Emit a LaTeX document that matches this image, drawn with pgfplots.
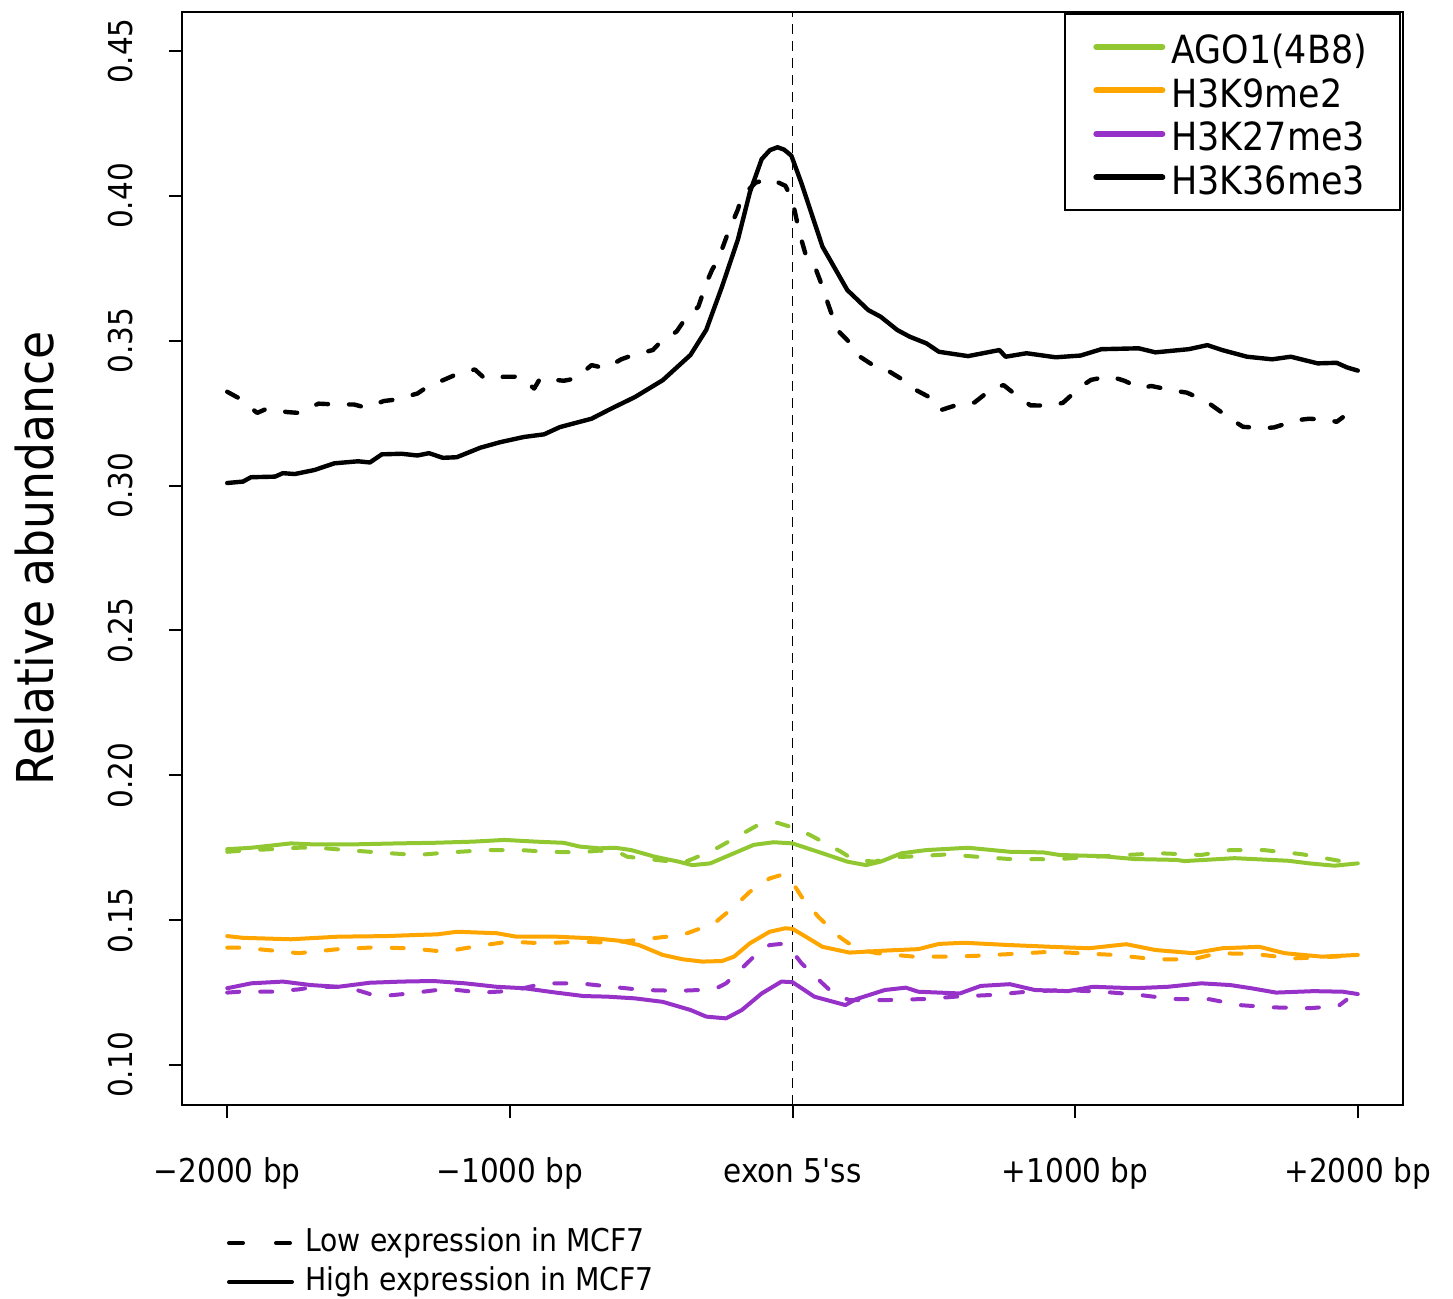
\documentclass[border=0pt]{standalone}
\usepackage{fontspec}
\newfontfamily\dejav{DejaVu Sans}[FakeStretch=0.9]
\usepackage{pgfplots}
\pgfplotsset{compat=1.18}
\definecolor{agogreen}{RGB}{145,200,50}
\definecolor{korange}{RGB}{255,165,0}
\definecolor{kpurple}{RGB}{150,50,200}
\begin{document}
\dejav
\begin{tikzpicture}
\begin{axis}[
  scale only axis, width=610.5pt, height=546.5pt,
  xmin=-2160, xmax=2160, ymin=0.0862, ymax=0.4635,
  axis line style={line width=1pt},
  xtick={-2000,-1000,0,1000,2000},
  xticklabels={−2000 bp,−1000 bp,exon 5'ss,+1000 bp,+2000 bp},
  ytick={0.10,0.15,0.20,0.25,0.30,0.35,0.40,0.45},
  yticklabel={\pgfmathprintnumber[fixed,fixed zerofill,precision=2,assume math mode=true]{\tick}},
  xtick pos=lower, ytick pos=left, tick align=outside,
  major tick length=6.5pt,
  tick style={black, line width=1pt},
  ticklabel style={font=\fontsize{16.4}{19}\selectfont},
  xticklabel style={anchor=base, yshift=-39pt+6.5pt},
  yticklabel style={xshift=-18pt, rotate=90, anchor=base},
  every axis y label/.style={at={(axis description cs:0,0.5)}, xshift=-73.5pt, rotate=90, anchor=center, font=\fontsize{25.4}{30}\selectfont},
  ylabel={Relative abundance},
  legend style={at={(1,1)}, anchor=north east, xshift=-1pt, yshift=-0.5pt, draw=black, line width=1pt, fill=white,
    font=\fontsize{19.4}{22}\selectfont, inner xsep=14pt, inner ysep=8pt, row sep=4.75pt,
    nodes={inner sep=0pt, text height=17pt, text depth=0pt},
    /tikz/every odd column/.append style={column sep=3pt}},
  legend cell align=left,
  legend image code/.code={\draw[#1, line width=3pt, line cap=round] (0pt,0pt) -- (33pt,0pt);},
  every axis plot/.append style={line join=round, line cap=round},
]
\addlegendimage{agogreen}\addlegendentry{AGO1(4B8)\hspace*{2.5pt}}
\addlegendimage{korange}\addlegendentry{H3K9me2}
\addlegendimage{kpurple}\addlegendentry{H3K27me3}
\addlegendimage{black}\addlegendentry{H3K36me3}

\addplot[forget plot, black, line width=0.9pt, dash pattern=on 5pt off 3.5pt, line cap=butt] coordinates {(0,0.0862) (0,0.4635)};

% AGO1 low (dashed)
\addplot[forget plot, agogreen, line width=2pt, dash pattern=on 6pt off 10.5pt] table {
-2000 0.1736
-1944 0.1740
-1846 0.1745
-1747 0.1750
-1677 0.1750
-1579 0.1742
-1495 0.1736
-1425 0.1731
-1327 0.1725
-1215 0.1734
-1075 0.1742
-963 0.1742
-865 0.1736
-753 0.1734
-683 0.1740
-613 0.1733
-585 0.1719
-501 0.1710
-389 0.1698
-347 0.1714
-263 0.1751
-221 0.1774
-165 0.1805
-123 0.1828
-53 0.1836
0 0.1820
62 0.1794
106 0.1771
172 0.1736
217 0.1708
290 0.1702
356 0.1717
445 0.1721
548 0.1727
651 0.1719
769 0.1711
931 0.1710
1034 0.1717
1181 0.1725
1299 0.1731
1446 0.1725
1549 0.1742
1667 0.1742
1800 0.1728
1917 0.1708
1960 0.1700
};
% AGO1 high
\addplot[forget plot, agogreen, line width=2pt] table {
-2000 0.1745
-1915 0.1750
-1775 0.1765
-1705 0.1762
-1537 0.1762
-1397 0.1765
-1271 0.1767
-1131 0.1771
-1019 0.1777
-907 0.1771
-809 0.1767
-753 0.1754
-683 0.1748
-627 0.1750
-571 0.1742
-487 0.1719
-403 0.1702
-354 0.1690
-291 0.1696
-207 0.1731
-137 0.1760
-67 0.1769
0 0.1765
106 0.1731
194 0.1702
260 0.1690
312 0.1702
386 0.1731
474 0.1742
621 0.1750
769 0.1736
887 0.1734
945 0.1725
1093 0.1721
1210 0.1711
1358 0.1708
1387 0.1704
1564 0.1714
1755 0.1705
1829 0.1696
1917 0.1688
2000 0.1696
};
% H3K9me2 low
\addplot[forget plot, korange, line width=2pt, dash pattern=on 6pt off 10.5pt] table {
-2000 0.1405
-1950 0.1405
-1859 0.1397
-1747 0.1386
-1607 0.1400
-1481 0.1406
-1355 0.1403
-1229 0.1391
-1131 0.1408
-1005 0.1426
-879 0.1420
-753 0.1426
-641 0.1422
-529 0.1434
-389 0.1449
-277 0.1489
-207 0.1546
-151 0.1598
-81 0.1644
-40 0.1656
0 0.1630
32 0.1581
91 0.1512
165 0.1443
224 0.1403
297 0.1386
430 0.1374
548 0.1374
651 0.1377
769 0.1383
916 0.1391
1137 0.1380
1284 0.1365
1417 0.1365
1505 0.1386
1637 0.1383
1770 0.1368
1873 0.1372
1960 0.1376
};
% H3K9me2 high
\addplot[forget plot, korange, line width=2pt] table {
-2000 0.1445
-1944 0.1439
-1775 0.1434
-1607 0.1443
-1439 0.1445
-1327 0.1449
-1257 0.1451
-1187 0.1460
-1047 0.1455
-977 0.1443
-837 0.1443
-697 0.1437
-613 0.1429
-543 0.1414
-459 0.1380
-389 0.1365
-319 0.1357
-249 0.1359
-207 0.1374
-151 0.1420
-81 0.1460
-25 0.1472
0 0.1470
47 0.1443
106 0.1408
202 0.1388
327 0.1395
445 0.1400
518 0.1418
607 0.1422
769 0.1414
916 0.1408
1049 0.1403
1181 0.1417
1284 0.1397
1417 0.1386
1520 0.1403
1652 0.1408
1741 0.1386
1873 0.1374
2000 0.1380
};
% H3K27me3 low
\addplot[forget plot, kpurple, line width=2pt, dash pattern=on 6pt off 10.5pt] table {
-2000 0.1250
-1957 0.1253
-1846 0.1253
-1747 0.1261
-1691 0.1270
-1579 0.1270
-1495 0.1245
-1439 0.1239
-1355 0.1247
-1257 0.1259
-1187 0.1259
-1103 0.1250
-991 0.1256
-879 0.1282
-753 0.1282
-641 0.1270
-529 0.1259
-403 0.1256
-277 0.1261
-235 0.1282
-179 0.1334
-137 0.1374
-81 0.1414
-40 0.1418
0 0.1391
32 0.1351
106 0.1282
150 0.1242
202 0.1224
327 0.1224
474 0.1228
577 0.1236
710 0.1242
828 0.1253
960 0.1259
1093 0.1253
1210 0.1244
1343 0.1228
1476 0.1227
1579 0.1207
1697 0.1199
1829 0.1196
1932 0.1204
1960 0.1225
};
% H3K27me3 high
\addplot[forget plot, kpurple, line width=2pt] table {
-2000 0.1265
-1915 0.1282
-1803 0.1288
-1705 0.1276
-1607 0.1270
-1495 0.1284
-1383 0.1288
-1271 0.1290
-1159 0.1282
-1047 0.1270
-949 0.1265
-837 0.1250
-739 0.1238
-655 0.1236
-557 0.1230
-459 0.1218
-361 0.1190
-305 0.1167
-235 0.1161
-179 0.1190
-109 0.1247
-39 0.1288
0 0.1286
77 0.1236
187 0.1207
224 0.1227
327 0.1259
401 0.1267
445 0.1253
592 0.1247
666 0.1273
769 0.1279
857 0.1259
975 0.1255
1063 0.1270
1210 0.1265
1328 0.1270
1446 0.1282
1549 0.1276
1623 0.1265
1711 0.1250
1844 0.1255
1947 0.1253
2000 0.1245
};
% H3K36me3 low
\addplot[forget plot, black, line width=2.2pt, dash pattern=on 6pt off 10.5pt] table {
-2000 0.3324
-1957 0.3301
-1894 0.3251
-1859 0.3266
-1789 0.3254
-1747 0.3251
-1677 0.3283
-1635 0.3281
-1551 0.3280
-1509 0.3269
-1446 0.3292
-1404 0.3297
-1327 0.3318
-1292 0.3341
-1222 0.3370
-1187 0.3385
-1124 0.3401
-1089 0.3370
-1019 0.3376
-963 0.3376
-914 0.3335
-893 0.3370
-809 0.3362
-767 0.3370
-711 0.3416
-662 0.3405
-606 0.3436
-564 0.3451
-494 0.3468
-466 0.3497
-410 0.3532
-382 0.3572
-333 0.3618
-305 0.3699
-284 0.3746
-263 0.3780
-228 0.3873
-193 0.3954
-179 0.4000
-130 0.4046
-81 0.4060
-25 0.4035
0 0.3983
25 0.3871
47 0.3796
77 0.3761
106 0.3687
121 0.3641
150 0.3560
165 0.3531
216 0.3480
239 0.3445
297 0.3408
334 0.3399
401 0.3359
437 0.3330
504 0.3295
526 0.3261
599 0.3284
644 0.3287
702 0.3332
747 0.3347
798 0.3307
842 0.3277
916 0.3276
957 0.3286
1019 0.3341
1056 0.3365
1122 0.3378
1174 0.3362
1233 0.3336
1269 0.3344
1350 0.3328
1395 0.3321
1461 0.3293
1491 0.3272
1557 0.3226
1594 0.3203
1667 0.3198
1704 0.3201
1785 0.3226
1829 0.3231
1903 0.3226
1925 0.3220
1947 0.3236
};
% H3K36me3 high
\addplot[forget plot, black, line width=2.2pt] table {
-2000 0.3009
-1944 0.3014
-1916 0.3029
-1831 0.3031
-1803 0.3043
-1761 0.3040
-1691 0.3054
-1621 0.3077
-1537 0.3084
-1495 0.3080
-1453 0.3108
-1383 0.3110
-1327 0.3104
-1286 0.3112
-1237 0.3096
-1188 0.3098
-1104 0.3131
-1034 0.3150
-950 0.3168
-879 0.3177
-823 0.3202
-711 0.3231
-641 0.3266
-557 0.3306
-459 0.3364
-361 0.3451
-305 0.3538
-249 0.3688
-193 0.3850
-151 0.4012
-109 0.4127
-80 0.4158
-53 0.4168
-30 0.4160
-4 0.4139
32 0.4043
106 0.3825
194 0.3675
268 0.3606
312 0.3583
371 0.3537
415 0.3514
474 0.3491
518 0.3462
621 0.3447
732 0.3468
754 0.3445
828 0.3457
931 0.3443
1019 0.3449
1093 0.3471
1225 0.3474
1284 0.3460
1402 0.3471
1468 0.3485
1520 0.3468
1608 0.3445
1697 0.3436
1763 0.3445
1858 0.3422
1925 0.3424
1962 0.3408
2000 0.3397
};
\end{axis}
\draw[black, line width=2pt, line cap=round, dash pattern=on 7pt off 16.5pt] (23.5pt,-69pt) -- (55pt,-69pt);
\draw[black, line width=2pt, line cap=round] (23.5pt,-88.5pt) -- (55pt,-88.5pt);
\node[anchor=west, inner sep=0pt, font=\fontsize{15.7}{18}\selectfont] at (61.5pt,-69pt) {Low expression in MCF7};
\node[anchor=west, inner sep=0pt, font=\fontsize{15.7}{18}\selectfont] at (61.5pt,-88.5pt) {High expression in MCF7};
\path (-91pt,-97pt) rectangle (635.5pt,552.5pt);
\end{tikzpicture}
\end{document}
